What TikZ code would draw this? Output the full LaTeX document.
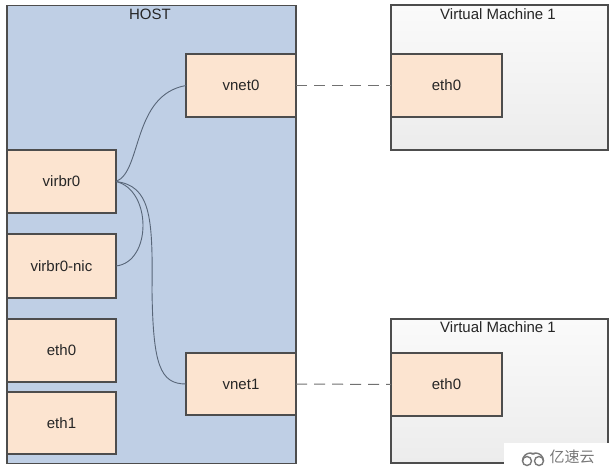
\documentclass[tikz,border=0pt]{standalone}
\usepackage{fontspec}
\setmainfont{Liberation Sans}
\newfontfamily\cjkfont{Noto Sans CJK SC}
\definecolor{hostfill}{RGB}{191,207,229}
\definecolor{boxfill}{RGB}{252,228,208}
\definecolor{edgecol}{RGB}{77,77,77}
\definecolor{wirecol}{RGB}{88,102,120}
\definecolor{vmtop}{RGB}{250,250,250}
\definecolor{vmbot}{RGB}{236,236,236}
\definecolor{wmgray}{RGB}{120,120,120}
\tikzset{
  ifbox/.style={draw=edgecol, line width=1.1pt, fill=boxfill, inner sep=0pt, outer sep=0pt,
    font=\fontsize{15}{17}\selectfont, text=black!85},
  hostbox/.style={draw=edgecol, line width=1.1pt, fill=hostfill, inner sep=0pt, outer sep=0pt},
  vmbox/.style={draw=edgecol, line width=1.1pt, top color=vmtop, bottom color=vmbot, inner sep=0pt, outer sep=0pt},
  title/.style={font=\fontsize{15}{17}\selectfont, text=black!85, inner sep=0pt},
  wire/.style={draw=wirecol, line width=0.9pt},
  vlink/.style={draw=edgecol!80, line width=1pt, dash pattern=on 11pt off 7pt}
}
\begin{document}
\begin{tikzpicture}[x=1pt,y=-1pt]
\useasboundingbox (0,0) rectangle (613,468);
\fill[white] (0,0) rectangle (613,468);
% containers
\node[hostbox, minimum width=289pt, minimum height=458pt] (host) at (151.5,234.5) {};
\node[title] (hostlbl) at (150,14) {HOST};
\node[vmbox, minimum width=217pt, minimum height=145pt] (vm1) at (499.5,77.5) {};
\node[title] (vm1lbl) at (498,14.5) {Virtual Machine 1};
\node[vmbox, minimum width=217pt, minimum height=144pt] (vm2) at (499.5,391) {};
\node[title] (vm2lbl) at (498,327.5) {Virtual Machine 1};
% interfaces in host
\node[ifbox, minimum width=110pt, minimum height=63pt] (vnet0) at (241,85.5) {vnet0};
\node[ifbox, minimum width=110pt, minimum height=62pt] (vnet1) at (241,384) {vnet1};
\node[ifbox, minimum width=109pt, minimum height=63pt] (virbr0) at (61.5,181.5) {virbr0};
\node[ifbox, minimum width=109pt, minimum height=64pt] (virbrnic) at (61.5,266) {virbr0-nic};
\node[ifbox, minimum width=109pt, minimum height=63pt] (heth0) at (61.5,350.5) {eth0};
\node[ifbox, minimum width=109pt, minimum height=62pt] (heth1) at (61.5,423) {eth1};
% interfaces in VMs
\node[ifbox, minimum width=111pt, minimum height=63pt] (veth0) at (446.5,85.5) {eth0};
\node[ifbox, minimum width=111pt, minimum height=63pt] (veth1) at (446.5,384.5) {eth0};
% wires
\path[wire] (virbr0.east) .. controls (142,172) and (132,95) .. (vnet0.west);
\path[wire] (virbr0.east) .. controls (152,190) and (152,262) .. (virbrnic.east);
\path[wire] (virbr0.east) .. controls (150,186) and (153,215) .. (152,290)
  .. controls (153,365) and (160,384) .. (vnet1.west);
% links
\path[vlink] (vnet0.east) -- (veth0.west);
\path[vlink] (vnet1.east) -- (veth1.west);
% watermark
\node[fill=white, inner sep=0pt, minimum width=109pt, minimum height=25pt] (wm) at (558.5,455.5) {};
\node[font=\cjkfont\fontsize{15}{17}\selectfont, text=wmgray, inner sep=0pt] (wmtext) at (572,457) {亿速云};
\draw[wmgray, line width=1.4pt] (527,461) circle (4.5pt);
\draw[wmgray, line width=1.4pt] (539,461) circle (4.5pt);
\draw[wmgray, line width=1.4pt] (522.5,461) arc (180:60:8pt);
\draw[wmgray, line width=1.4pt] (543.5,461) arc (0:120:8pt);
\end{tikzpicture}
\end{document}
